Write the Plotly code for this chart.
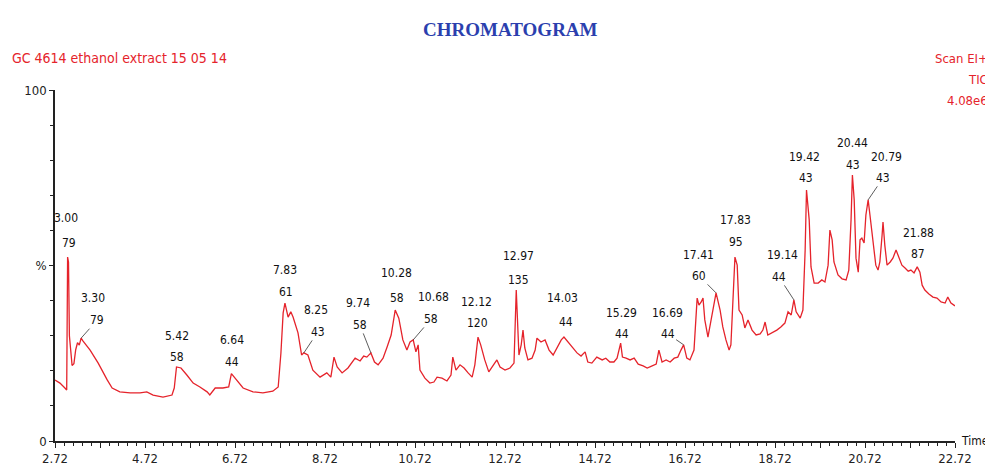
import numpy as np
import plotly.graph_objects as go

# ---------------- data ----------------
times = [2.72, 2.83, 2.94, 2.98, 3.00, 3.02, 3.04, 3.07, 3.10, 3.14, 3.18, 3.22, 3.26, 3.30, 3.34, 3.50, 3.68, 3.88,
         3.99, 4.16, 4.39, 4.61, 4.76, 4.90, 5.12, 5.32, 5.37, 5.42, 5.52, 5.65, 5.79, 5.94, 6.10, 6.16, 6.28, 6.45,
         6.58, 6.64, 6.76, 6.90, 7.12, 7.34, 7.56, 7.68, 7.74, 7.79, 7.83, 7.90, 7.96, 8.01, 8.12, 8.20, 8.25, 8.34,
         8.45, 8.61, 8.76, 8.85, 8.92, 8.99, 9.10, 9.23, 9.39, 9.50, 9.58, 9.65, 9.74, 9.82, 9.90, 10.01, 10.10,
         10.19, 10.28, 10.36, 10.45, 10.54, 10.61, 10.68, 10.74, 10.79, 10.83, 10.94, 11.05, 11.14, 11.21, 11.32,
         11.43, 11.52, 11.56, 11.63, 11.72, 11.81, 11.90, 11.99, 12.05, 12.12, 12.18, 12.27, 12.36, 12.45, 12.54,
         12.61, 12.72, 12.83, 12.92, 12.97, 13.01, 13.03, 13.08, 13.12, 13.16, 13.23, 13.32, 13.39, 13.43, 13.52,
         13.61, 13.70, 13.79, 13.88, 13.97, 14.03, 14.12, 14.23, 14.32, 14.41, 14.50, 14.56, 14.65, 14.76, 14.88,
         14.96, 15.05, 15.14, 15.21, 15.29, 15.33, 15.41, 15.50, 15.59, 15.68, 15.79, 15.88, 15.99, 16.08, 16.14,
         16.21, 16.30, 16.39, 16.48, 16.56, 16.63, 16.69, 16.76, 16.83, 16.92, 16.99, 17.03, 17.08, 17.12, 17.16,
         17.23, 17.30, 17.37, 17.41, 17.50, 17.56, 17.63, 17.70, 17.74, 17.79, 17.83, 17.88, 17.92, 17.99, 18.05,
         18.12, 18.21, 18.30, 18.39, 18.45, 18.50, 18.56, 18.65, 18.76, 18.85, 18.94, 19.01, 19.08, 19.14, 19.19,
         19.28, 19.34, 19.39, 19.42, 19.48, 19.52, 19.59, 19.68, 19.76, 19.83, 19.90, 19.94, 19.99, 20.03, 20.12,
         20.21, 20.30, 20.36, 20.41, 20.44, 20.48, 20.52, 20.57, 20.61, 20.65, 20.70, 20.74, 20.79, 20.83, 20.88,
         20.92, 20.96, 21.01, 21.05, 21.10, 21.12, 21.16, 21.21, 21.28, 21.34, 21.41, 21.48, 21.54, 21.61, 21.68,
         21.74, 21.81, 21.88, 21.94, 21.99, 22.05, 22.14, 22.23, 22.32, 22.41, 22.50, 22.56, 22.63, 22.72]

abundance = [17.4, 16.5, 15.1, 14.5, 52.4, 51.0, 30.0, 25.0, 21.5, 22.0, 26.0, 28.0, 27.3, 29.3, 28.5, 25.9, 22.2, 17.4,
             15.1, 14.0, 13.7, 13.7, 14.0, 13.1, 12.5, 13.1, 15.1, 21.1, 20.8, 18.8, 16.5, 15.4, 14.0, 13.1, 15.1, 15.1,
             15.4, 19.2, 17.4, 15.1, 14.0, 13.7, 14.2, 15.4, 25.0, 36.5, 39.3, 35.3, 36.8, 35.3, 30.8, 24.5, 25.1, 24.5,
             20.2, 18.2, 19.4, 18.2, 23.9, 21.1, 19.4, 20.8, 23.6, 22.8, 24.2, 23.9, 25.1, 22.5, 21.7, 23.6, 26.8,
             30.2, 37.3, 35.0, 28.8, 25.9, 28.2, 28.8, 25.4, 27.4, 20.2, 17.9, 16.5, 16.8, 18.2, 17.9,
             17.1, 18.8, 23.9, 20.2, 21.7, 20.8, 19.4, 18.2, 21.7, 29.6, 27.4, 23.1, 19.7, 21.4, 23.1,
             21.1, 20.2, 20.8, 22.2, 43.0, 31.6, 24.5, 27.4, 31.6, 26.5, 23.1, 23.6, 25.9, 29.3, 28.2,
             28.8, 25.9, 24.5, 26.8, 28.8, 29.6, 28.2, 26.5, 25.1, 24.2, 25.4, 22.5, 22.2, 23.9, 23.1,
             23.6, 22.5, 22.5, 23.6, 27.9, 23.9, 23.6, 23.1, 23.6, 21.9, 21.4, 20.8, 21.4, 21.9, 25.9,
             22.5, 23.1, 22.5, 23.6, 23.9, 25.9, 27.4, 23.6, 23.1, 25.9, 40.7, 38.7, 39.6, 40.7, 34.5,
             29.6, 34.5, 40.2, 42.2, 37.3, 32.5, 28.8, 25.9, 27.4, 40.2, 52.4, 50.1, 37.3, 35.9, 32.2,
             34.5, 31.6, 30.2, 30.5, 31.6, 33.9, 30.2, 30.8, 31.6, 32.5, 33.6, 36.8, 35.9, 40.2, 36.8,
             35.0, 37.3, 54.4, 71.5, 63.0, 49.6, 45.0, 45.0, 45.9, 45.3, 50.1, 60.1, 57.3, 51.0, 47.3,
             46.2, 45.9, 48.7, 63.0, 75.8, 68.7, 52.1, 48.1, 57.3, 57.8, 56.4, 64.4, 68.7, 64.4, 58.7,
             54.4, 50.1, 48.7, 51.0, 58.7, 62.4, 55.8, 50.1, 51.0, 52.1, 54.4, 52.1, 50.1, 49.3, 48.4,
             48.7, 47.9, 49.6, 48.1, 44.4, 43.0, 41.9, 41.0, 40.7, 39.6, 39.3, 41.0, 39.3, 38.5]

peak_times = [3.00, 3.30, 5.42, 6.64, 7.83, 8.25, 9.74, 10.28, 10.68, 12.12, 12.97, 14.03, 15.29, 16.69,
              17.41, 17.83, 19.14, 19.42, 20.44, 20.79, 21.88]
peak_mz = ["79", "79", "58", "44", "61", "43", "58", "58", "58", "120", "135", "44", "44", "44",
           "60", "95", "44", "43", "43", "43", "87"]

x_tick_vals = [2.72, 3.72, 4.72, 5.72, 6.72, 7.72, 8.72, 9.72, 10.72, 11.72, 12.72, 13.72, 14.72, 15.72,
               16.72, 17.72, 18.72, 19.72, 20.72, 21.72, 22.72]
x_tick_text = ["2.72", "", "4.72", "", "6.72", "", "8.72", "", "10.72", "", "12.72", "", "14.72", "",
               "16.72", "", "18.72", "", "20.72", "", "22.72"]
y_tick_vals = [0, 50, 100]
y_tick_text = ["0", "%", "100"]

# ---------------- style / layout (label offsets in pixels: mz dx, mz dy-up, time dx, time dy-up, leader) ----
label_offsets = [(1, 14, -2, 39, 0), (16, 18, 12, 40, 1), (0, 10, 0, 31, 0), (1, 12, 1, 34, 0),
                 (1, 11, 0, 33, 0), (14, 21, 12, 43, 1), (-11, 28, -13, 50, 1), (2, 12, 1, 37, 0),
                 (18, 21, 20, 43, 1), (-1, 14, -2, 35, 0), (2, 10, 2, 34, 0), (2, 15, -1, 39, 0),
                 (1, 9, 1, 30, 0), (-16, 11, -16, 32, 1), (-17, 17, -18, 38, 1), (1, 15, 1, 37, 0),
                 (-15, 23, -11, 45, 1), (-1, 12, -2, 33, 0), (1, 10, 0, 32, 0), (15, 22, 18, 43, 1),
                 (1, 13, 1, 34, 0)]

NARROW = "Liberation Sans Narrow, Arial Narrow, DejaVu Sans Condensed, sans-serif"
RED = "#e5232b"

fig = go.Figure()
fig.add_trace(go.Scatter(x=times, y=abundance, mode="lines",
                         line=dict(color=RED, width=1.3), hoverinfo="skip", showlegend=False))

annotations = []
for t, mz, (mdx, mdy, tdx, tdy, lead) in zip(peak_times, peak_mz, label_offsets):
    yv = float(np.interp(t, times, abundance))
    annotations.append(dict(x=t, y=yv, xref="x", yref="y", text=mz, showarrow=True,
                            arrowhead=0, arrowwidth=0.8,
                            arrowcolor="#333333" if lead else "rgba(0,0,0,0)",
                            ax=mdx, ay=-mdy, standoff=0,
                            font=dict(family=NARROW, size=12, color="#111111")))
    annotations.append(dict(x=t, y=yv, xref="x", yref="y", text=f"{t:.2f}", showarrow=False,
                            xshift=tdx, yshift=tdy, xanchor="center", yanchor="middle",
                            font=dict(family=NARROW, size=12, color="#111111")))

# header texts (paper coords)
annotations += [
    dict(x=0.5056, y=1.171, xref="paper", yref="paper", text="<b>CHROMATOGRAM</b>", showarrow=False,
         xanchor="center", yanchor="middle",
         font=dict(family="Liberation Serif, Times New Roman, serif", size=19, color="#2b3fae")),
    dict(x=-0.05, y=1.091, xref="paper", yref="paper", text="GC 4614 ethanol extract 15 05 14",
         showarrow=False, xanchor="left", yanchor="middle",
         font=dict(family=NARROW, size=14, color=RED)),
    dict(x=1.039, y=1.091, xref="paper", yref="paper", text="Scan EI+", showarrow=False,
         xanchor="right", yanchor="middle", font=dict(family=NARROW, size=13, color=RED)),
    dict(x=1.039, y=1.0285, xref="paper", yref="paper", text="TIC", showarrow=False,
         xanchor="right", yanchor="middle", font=dict(family=NARROW, size=13, color=RED)),
    dict(x=1.039, y=0.9715, xref="paper", yref="paper", text="4.08e6", showarrow=False,
         xanchor="right", yanchor="middle", font=dict(family=NARROW, size=13, color=RED)),
    dict(x=1.0, y=0.0, xref="paper", yref="paper", text="Time", showarrow=False,
         xanchor="left", yanchor="middle", xshift=4,
         font=dict(family=NARROW, size=12, color="#111111")),
]

fig.update_layout(
    width=985, height=470,
    margin=dict(l=47, r=38, t=82, b=29, pad=0),
    paper_bgcolor="white", plot_bgcolor="white",
    annotations=annotations,
    xaxis=dict(range=[2.72, 22.72], showgrid=False, zeroline=False, showline=True,
               linecolor="#222222", linewidth=1.5, ticks="outside", ticklen=5, tickwidth=1,
               tickcolor="#222222", tickvals=x_tick_vals, ticktext=x_tick_text,
               tickfont=dict(family=NARROW, size=13, color="#222222"),
               minor=dict(dtick=0.2, tick0=2.72, ticks="outside", ticklen=3, tickcolor="#222222")),
    yaxis=dict(range=[0, 100], showgrid=False, zeroline=False, showline=True,
               linecolor="#222222", linewidth=1.5, ticks="outside", ticklen=4, tickwidth=1,
               tickcolor="#222222", tickvals=y_tick_vals, ticktext=y_tick_text,
               tickfont=dict(family=NARROW, size=13, color="#222222"),
               minor=dict(dtick=10, tick0=0, ticks="outside", ticklen=3, tickcolor="#222222")),
)

fig.write_html("out.html")
